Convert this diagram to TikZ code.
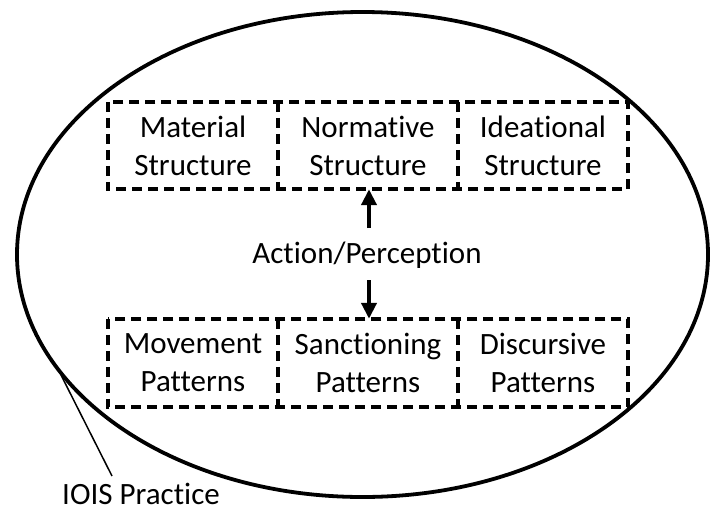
\documentclass[tikz,border=0pt]{standalone}
\usepackage{fontspec}
\setmainfont{Carlito}[Ligatures=NoCommon]
\usetikzlibrary{arrows.meta}
\begin{document}
\begin{tikzpicture}[x=1pt,y=-1pt,
  box/.style={align=center, font=\fontsize{31}{38}\selectfont, inner sep=0pt},
  dsh/.style={line width=3.6pt, dash pattern=on 10pt off 6pt},
  lbl/.style={font=\fontsize{31}{38}\selectfont, inner sep=0pt},
  arr/.style={line width=4pt, -{Triangle[width=15pt,length=16pt]}}]
\useasboundingbox (0,0) rectangle (710,512);
\draw[line width=3.8pt] (362.5,254.5) ellipse [x radius=345.5, y radius=242.5];
% top row
\node[box, minimum width=170pt, minimum height=87pt] (mat) at (193,145.5) {Material\\Structure};
\node[box, minimum width=180pt, minimum height=87pt] (nor) at (368,145.5) {Normative\\Structure};
\node[box, minimum width=170pt, minimum height=87pt] (ide) at (543,145.5) {Ideational\\Structure};
\draw[dsh] (mat.north west) rectangle (ide.south east);
\draw[dsh] (mat.north east) -- (mat.south east);
\draw[dsh] (nor.north east) -- (nor.south east);
% bottom row
\node[box, minimum width=170pt, minimum height=88pt] (mov) at (193,363) {Movement\\Patterns};
\node[box, minimum width=180pt, minimum height=88pt] (san) at (368,363) {Sanctioning\\Patterns};
\node[box, minimum width=170pt, minimum height=88pt] (dis) at (543,363) {Discursive\\Patterns};
\draw[dsh] (mov.north west) rectangle (dis.south east);
\draw[dsh] (mov.north east) -- (mov.south east);
\draw[dsh] (san.north east) -- (san.south east);
% middle
\node[lbl] (ap) at (367,255) {Action/Perception};
\coordinate (a1) at (369,228);
\coordinate (a2) at (369,280);
\draw[arr] (a1) -- (nor.south -| a1);
\draw[arr] (a2) -- (san.north -| a2);
% callout
\node[lbl] (iois) at (141,494) {IOIS Practice};
\coordinate (c1) at (61,375);
\coordinate (c2) at (112,476);
\draw[line width=1.5pt] (c1) -- (c2);
\end{tikzpicture}
\end{document}
